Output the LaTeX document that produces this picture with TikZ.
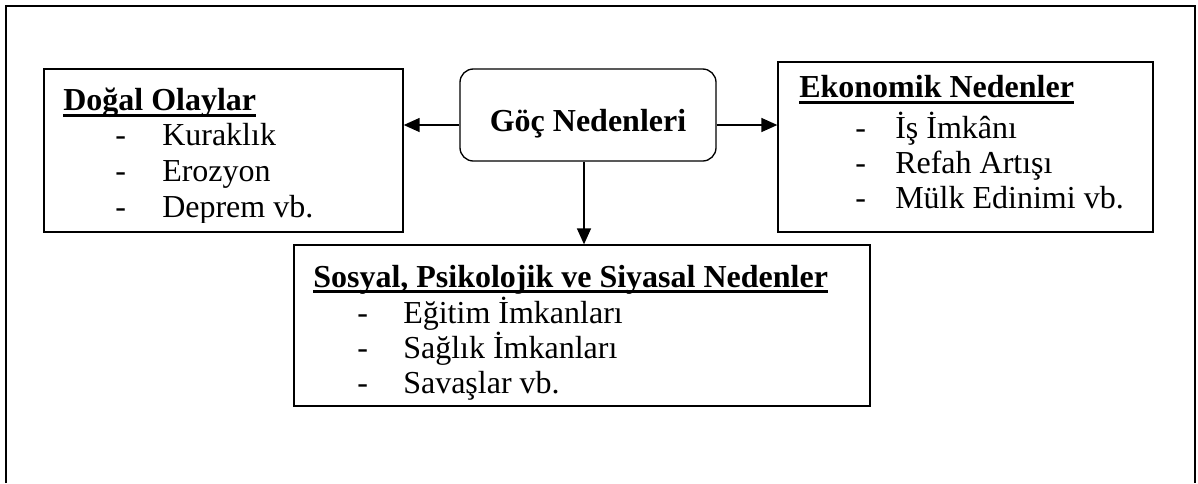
\documentclass[tikz,border=0pt]{standalone}
\usepackage{fontspec}
\setmainfont{Liberation Serif}
\usetikzlibrary{fit,arrows.meta}
\begin{document}
\begin{tikzpicture}[x=0.75pt,y=-0.75pt,
  box/.style={draw,line width=1pt,inner sep=0pt},
  rbox/.style={box,rounded corners=10pt},
  frame/.style={line width=2pt},
  arr/.style={line width=1.1pt,-{Triangle[length=12pt,width=10.5pt]}},
  ttl/.style={anchor=base west,inner sep=0pt,font=\fontsize{24}{28}\selectfont\bfseries},
  itm/.style={anchor=base west,inner sep=0pt,font=\fontsize{24}{28}\selectfont},
  uline/.style={line width=2.2pt}]
\useasboundingbox (0,0) rectangle (1198,483);
% outer frame (open at the bottom)
\draw[frame] (6,483) -- (6,6) -- (1195,6) -- (1195,483);

% boxes
\node[box,fit={(44,69)(403,232)}] (dogal) {};
\node[rbox,fit={(460,69)(716,161)}] (goc) {};
\node[box,fit={(778,62)(1153,232)}] (eko) {};
\node[box,fit={(294,245)(870,406)}] (sos) {};

% centre text
\node[anchor=base,inner sep=0pt,font=\fontsize{24}{28}\selectfont\bfseries] (goct) at (588,131) {Göç Nedenleri};

% Doğal Olaylar (clipped like the original text box)
\begin{scope}
\clip (44,69) rectangle (403,222);
\node[ttl] (dt) at (63,110) {Doğal Olaylar};
\node[itm] (dd1) at (115,145) {-};
\node[itm] (di1) at (162,145) {Kuraklık};
\node[itm] (dd2) at (115,181) {-};
\node[itm] (di2) at (162,181) {Erozyon};
\node[itm] (dd3) at (115,217) {-};
\node[itm] (di3) at (162,217) {Deprem vb.};
\end{scope}
\draw[uline] ([yshift=-4.2pt]dt.base west) -- ([yshift=-4.2pt]dt.base east);

% Ekonomik Nedenler
\node[ttl] (et) at (799,97) {Ekonomik Nedenler};
\draw[uline] ([yshift=-3.9pt]et.base west) -- ([yshift=-3.9pt]et.base east);
\node[itm] (ed1) at (855,138) {-};
\node[itm] (ei1) at (895,138) {İş İmkânı};
\node[itm] (ed2) at (855,173) {-};
\node[itm] (ei2) at (895,173) {Refah Artışı};
\node[itm] (ed3) at (855,208) {-};
\node[itm] (ei3) at (895,208) {Mülk Edinimi vb.};

% Sosyal, Psikolojik ve Siyasal Nedenler
\node[ttl] (st) at (313,287) {Sosyal, Psikolojik ve Siyasal Nedenler};
\draw[uline] ([yshift=-3.6pt]st.base west) -- ([yshift=-3.6pt]st.base east);
\node[itm] (sd1) at (357,323) {-};
\node[itm] (si1) at (403,323) {Eğitim İmkanları};
\node[itm] (sd2) at (357,358) {-};
\node[itm] (si2) at (403,358) {Sağlık İmkanları};
\node[itm] (sd3) at (357,393) {-};
\node[itm] (si3) at (403,393) {Savaşlar vb.};

% connectors
\draw[arr] ([yshift=-7.5pt]goc.west) -- ([yshift=-7.5pt]goc.west -| dogal.east);
\draw[arr] ([yshift=-7.5pt]goc.east) -- ([yshift=-7.5pt]goc.east -| eko.west);
\draw[arr] ([xshift=-3pt]goc.south) -- ([xshift=-3pt]goc.south |- sos.north);
\end{tikzpicture}
\end{document}
